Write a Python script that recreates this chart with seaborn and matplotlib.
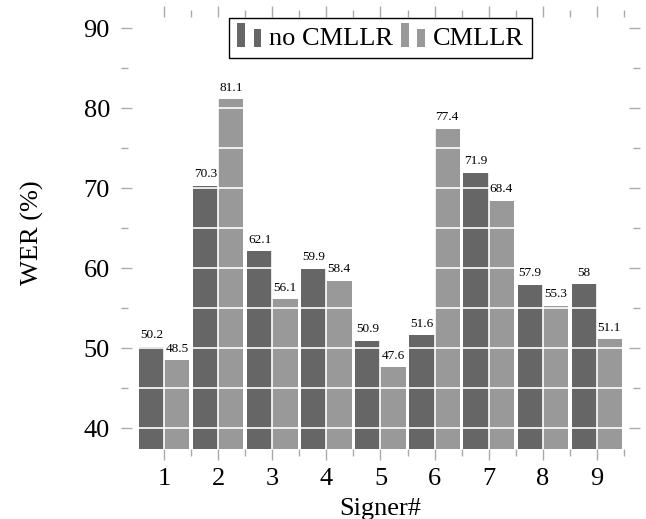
import pandas as pd
import seaborn as sns
import matplotlib.pyplot as plt
from matplotlib.patches import Patch, Rectangle
from matplotlib.legend_handler import HandlerBase
from matplotlib.ticker import FixedLocator

# values
signers = ['1', '2', '3', '4', '5', '6', '7', '8', '9']
wer_no_cmllr = [50.2, 70.3, 62.1, 59.9, 50.9, 51.6, 71.9, 57.9, 58]
wer_cmllr = [48.5, 81.1, 56.1, 58.4, 47.6, 77.4, 68.4, 55.3, 51.1]
methods = ['no CMLLR', 'CMLLR']
colors = {'no CMLLR': '#666666', 'CMLLR': '#999999'}


class TwoBarHandler(HandlerBase):
    # pgfplots style ybar legend image: two small bars
    def create_artists(self, legend, orig_handle, xdescent, ydescent,
                       width, height, fontsize, trans):
        fc = orig_handle.get_facecolor()
        w = width * 0.32
        y0 = -ydescent - 0.1 * height
        r1 = Rectangle((-xdescent, y0), w, height * 1.3, facecolor=fc,
                       edgecolor='none', transform=trans)
        r2 = Rectangle((-xdescent + width - w, y0), w, height * 0.95,
                       facecolor=fc, edgecolor='none', transform=trans)
        return [r1, r2]


def wer_barplot(output_path):
    df = pd.DataFrame({
        'signer': signers * 2,
        'wer': wer_no_cmllr + wer_cmllr,
        'method': [methods[0]] * len(signers) + [methods[1]] * len(signers),
    })

    sns.set_theme(style='white')
    plt.rcParams['font.family'] = ['Liberation Serif', 'DejaVu Serif']

    fig = plt.figure(figsize=(6.46, 5.19), dpi=100)
    ax = fig.add_axes([0.1873, 0.1349, 0.8034, 0.8323])

    sns.barplot(data=df, x='signer', y='wer', hue='method', hue_order=methods,
                palette=colors, width=0.93, linewidth=0, saturation=1,
                legend=False, ax=ax)

    for cont, vals in zip(ax.containers, [wer_no_cmllr, wer_cmllr]):
        ax.bar_label(cont, labels=[f'{v:g}' for v in vals], padding=4,
                     fontsize=9.5, color='black')

    ax.set_xlim(-0.80, 8.80)
    ax.set_ylim(37.4, 91.4)
    ax.set_yticks([40, 50, 60, 70, 80, 90])
    ax.yaxis.set_minor_locator(FixedLocator([45, 55, 65, 75, 85]))
    ax.xaxis.set_minor_locator(FixedLocator([i + 0.5 for i in range(9)]))

    for s in ax.spines.values():
        s.set_visible(False)

    ax.grid(which='both', color='white', linewidth=1.2)
    ax.set_axisbelow(False)

    ax.tick_params(axis='x', which='both', direction='out', top=True,
                   bottom=True, labeltop=False, color='#aaaaaa', width=1.0)
    ax.tick_params(axis='y', which='both', direction='in', left=True,
                   right=True, labelright=False, color='#aaaaaa', width=1.0)
    ax.tick_params(which='major', length=8, labelsize=19, labelcolor='black')
    ax.tick_params(which='minor', length=5)
    ax.tick_params(axis='x', which='major', pad=6)
    ax.tick_params(axis='y', which='major', pad=8)

    ax.set_xlabel('Signer#', fontsize=19, color='black')
    ax.set_ylabel('WER (%)', fontsize=19, color='black')
    ax.xaxis.set_label_coords(0.5, -0.113)
    ax.yaxis.set_label_coords(-0.148, 0.5)

    handles = [Patch(facecolor=colors[m]) for m in methods]
    leg = ax.legend(handles, methods, handler_map={Patch: TwoBarHandler()},
                    ncol=2, loc='upper center', bbox_to_anchor=(0.5, 1.0),
                    borderaxespad=0.05, fontsize=19, frameon=True,
                    fancybox=False, framealpha=1, edgecolor='black',
                    handlelength=0.9, handletextpad=0.3, columnspacing=0.3,
                    borderpad=0.3)
    leg.get_frame().set_linewidth(1.0)
    for t in leg.get_texts():
        t.set_color('black')

    plt.savefig(output_path, dpi=100)


if __name__ == "__main__":
    wer_barplot("out.png")
